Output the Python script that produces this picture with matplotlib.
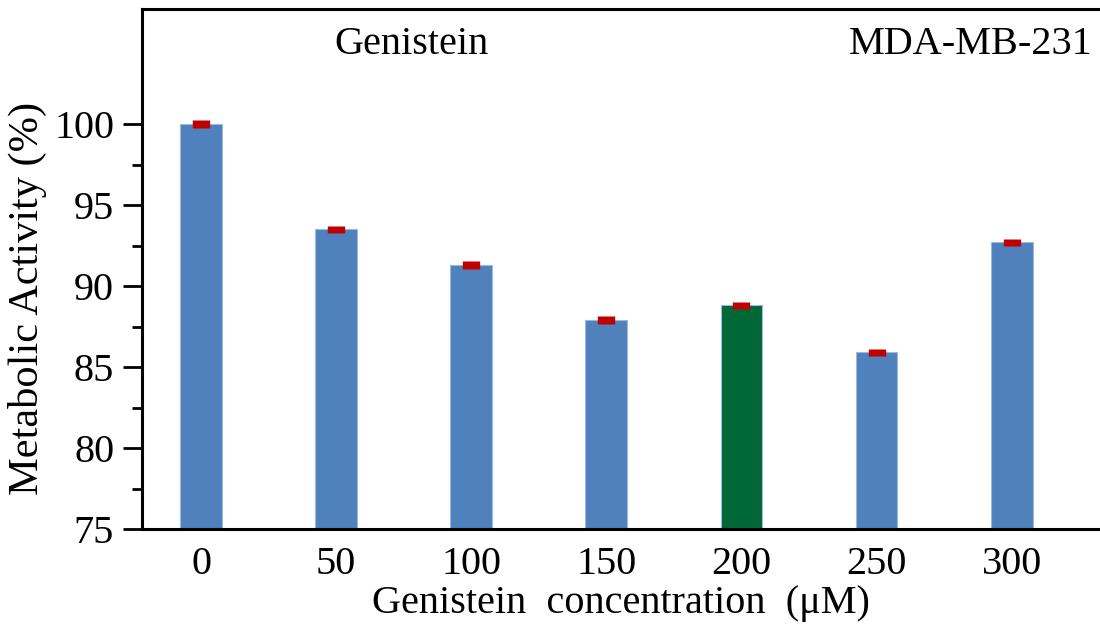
import matplotlib.pyplot as plt
from matplotlib.ticker import FixedLocator

plt.rcParams['font.family'] = ['Liberation Serif', 'DejaVu Serif']

conc = ['0', '50', '100', '150', '200', '250', '300']
activity = [100.0, 93.5, 91.3, 87.9, 88.8, 85.9, 92.7]
err = [0.22, 0.22, 0.22, 0.22, 0.22, 0.22, 0.22]
colors = ['#4F81BD', '#4F81BD', '#4F81BD', '#4F81BD', '#006837', '#4F81BD', '#4F81BD']
yticks = [75, 80, 85, 90, 95, 100]
yminor = [77.5, 82.5, 87.5, 92.5, 97.5]

fig = plt.figure(figsize=(11, 6.36), dpi=100)
ax = fig.add_axes([142 / 1100, 107 / 636, 1 - 142 / 1100, 520 / 636])

x = range(len(conc))
ax.bar(x, [v - 75 for v in activity], bottom=75, width=0.31, color=colors,
       edgecolor='#9DB8DC', linewidth=0.8)
eb = ax.errorbar(x, activity, yerr=err, fmt='none', ecolor='#C00000', elinewidth=12.5)
for c in eb[2]:
    c.set_capstyle('butt')

ax.set_xlim(-0.437, 6.654)
ax.set_ylim(75, 107.1)
ax.set_xticks(list(x))
ax.set_xticklabels(conc)
ax.set_yticks(yticks)
ax.yaxis.set_minor_locator(FixedLocator(yminor))

ax.tick_params(axis='y', which='major', direction='out', length=14, width=2, pad=6, labelsize=29)
ax.tick_params(axis='y', which='minor', direction='out', length=7, width=2)
ax.tick_params(axis='x', length=0, pad=12, labelsize=29)

for s in ['left', 'bottom', 'top']:
    ax.spines[s].set_linewidth(2.2)
ax.spines['right'].set_visible(False)

ax.set_ylabel('Metabolic Activity (%)', fontsize=30.5)
ax.yaxis.set_label_coords(-0.099, 0.444)
ax.set_xlabel('Genistein  concentration  (\u03bcM)', fontsize=29, labelpad=2)

ax.text(1.56, 104.9, 'Genistein', fontsize=29, ha='center', va='center')
ax.text(6.60, 104.9, 'MDA-MB-231', fontsize=29, ha='right', va='center')

plt.savefig('out.png')
